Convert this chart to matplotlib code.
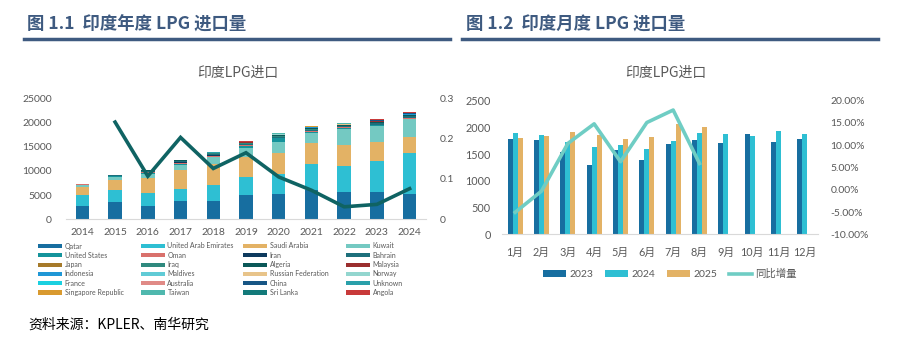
import numpy as np
import matplotlib
matplotlib.use("Agg")
import matplotlib.pyplot as plt
from matplotlib.patches import Patch
from matplotlib.lines import Line2D

plt.rcParams['font.family'] = ['Lato', 'Noto Sans CJK SC', 'DejaVu Sans']

# ---------------- data: annual (left) ----------------
years = ['2014', '2015', '2016', '2017', '2018', '2019', '2020', '2021', '2022', '2023', '2024']
countries = ['Qatar', 'United Arab Emirates', 'Saudi Arabia', 'Kuwait',
             'United States', 'Oman', 'Iran', 'Bahrain',
             'Japan', 'Iraq', 'Algeria', 'Malaysia',
             'Indonesia', 'Maldives', 'Russian Federation', 'Norway',
             'France', 'Australia', 'China', 'Unknown',
             'Singapore Republic', 'Taiwan', 'Sri Lanka', 'Angola']
qatar     = [2830, 3600, 2830, 3750, 3820, 4970, 5320, 6150, 5590, 5650, 5320]
uae       = [2200, 2400, 2620, 2480, 3180, 3730, 4140, 5240, 5390, 6360, 8280]
saudi     = [1660, 2080, 3100, 3870, 4390, 4200, 4270, 4350, 4280, 3870, 3440]
kuwait    = [350, 690, 910, 1100, 1390, 1740, 2280, 2130, 3320, 3320, 3610]
us        = [120, 200, 150, 200, 150, 450, 700, 250, 250, 200, 150]
oman      = [40, 40, 250, 300, 150, 200, 150, 150, 150, 150, 200]
iran      = [0, 0, 0, 100, 300, 150, 0, 0, 0, 0, 0]
bahrain   = [50, 80, 100, 150, 100, 120, 150, 250, 200, 250, 250]
japan     = [0, 0, 30, 50, 40, 30, 20, 30, 20, 30, 30]
iraq      = [0, 0, 50, 100, 80, 120, 150, 150, 120, 150, 120]
algeria   = [60, 80, 80, 120, 100, 150, 200, 200, 150, 180, 180]
malaysia  = [0, 20, 30, 40, 30, 40, 60, 50, 40, 60, 60]
indonesia = [0, 0, 0, 0, 0, 20, 40, 30, 30, 30, 30]
maldives  = [0, 0, 0, 0, 0, 0, 0, 0, 0, 0, 0]
russia    = [0, 0, 0, 0, 0, 0, 0, 0, 60, 60, 50]
norway    = [0, 0, 0, 20, 30, 40, 50, 30, 20, 30, 30]
france    = [0, 0, 0, 0, 0, 0, 20, 20, 0, 0, 0]
australia = [0, 0, 20, 20, 20, 20, 30, 20, 20, 20, 30]
china     = [0, 0, 0, 0, 0, 0, 40, 50, 60, 100, 120]
unknown   = [20, 30, 40, 50, 40, 50, 60, 60, 50, 60, 60]
singapore = [0, 0, 0, 0, 20, 20, 40, 30, 40, 50, 50]
taiwan    = [0, 0, 0, 0, 0, 20, 30, 20, 20, 30, 30]
srilanka  = [0, 0, 0, 0, 0, 0, 0, 0, 0, 0, 0]
angola    = [0, 0, 0, 0, 0, 30, 40, 20, 20, 20, 30]
growth    = [np.nan, 0.241, 0.107, 0.203, 0.126, 0.165, 0.105, 0.072, 0.031, 0.037, 0.076]

series = [qatar, uae, saudi, kuwait, us, oman, iran, bahrain, japan, iraq, algeria, malaysia,
          indonesia, maldives, russia, norway, france, australia, china, unknown,
          singapore, taiwan, srilanka, angola]
colors = ['#176ea0', '#2ebfd3', '#e3b265', '#74c9c2',
          '#14939b', '#d9716c', '#0e3a5e', '#1d6f7b',
          '#a67a2a', '#2f897e', '#0b5858', '#9a2e2e',
          '#1f97d6', '#60cbd6', '#e8c48a', '#93d6cf',
          '#1ad0e0', '#e08a86', '#175685', '#2aa0aa',
          '#d99a2f', '#4fb8ae', '#137a7a', '#c83a3a']

# ---------------- data: monthly (right) ----------------
months = ['1月', '2月', '3月', '4月', '5月', '6月', '7月', '8月', '9月', '10月', '11月', '12月']
m2023 = [1783, 1758, 1540, 1297, 1571, 1384, 1683, 1758, 1714, 1877, 1727, 1777]
m2024 = [1889, 1858, 1733, 1633, 1671, 1590, 1746, 1889, 1877, 1845, 1933, 1877]
m2025 = [1795, 1845, 1914, 1864, 1783, 1820, 2064, 2001, np.nan, np.nan, np.nan, np.nan]
yoy   = [-5.06, -0.3, 10.4, 14.8, 6.3, 15.1, 17.9, 5.9, np.nan, np.nan, np.nan, np.nan]

W, H = 901, 351
fig = plt.figure(figsize=(W / 100, H / 100), dpi=100)

def ax_rect(x0, x1, ytop, ybot):
    return [x0 / W, 1 - ybot / H, (x1 - x0) / W, (ybot - ytop) / H]

header_color = '#3e5a80'
tick_color = '#595959'
cjk_bold = ['Noto Sans CJK SC', 'DejaVu Sans']

# headers
fig.text(27 / W, 1 - 25 / H, '图 1.1  印度年度 LPG 进口量', fontsize=12.5, fontweight='bold',
         color=header_color, va='center', ha='left', family=cjk_bold)
fig.text(466 / W, 1 - 25 / H, '图 1.2  印度月度 LPG 进口量', fontsize=12.5, fontweight='bold',
         color=header_color, va='center', ha='left', family=cjk_bold)
fig.add_artist(Line2D([24 / W, 450 / W], [1 - 39.3 / H] * 2, color=header_color, lw=2.5))
fig.add_artist(Line2D([462 / W, 878 / W], [1 - 39.3 / H] * 2, color=header_color, lw=2.5))
fig.text(28 / W, 1 - 325 / H, '资料来源：KPLER、南华研究', fontsize=10, color='black',
         va='center', ha='left', family=['Noto Sans CJK SC', 'DejaVu Sans'])

# ---------------- left chart ----------------
ax1 = fig.add_axes(ax_rect(66, 426, 98.3, 219.3))
x = np.arange(len(years))
bottom = np.zeros(len(years))
handles = []
for name, vals, c in zip(countries, series, colors):
    v = np.array(vals, dtype=float)
    ax1.bar(x, v, 0.41, bottom=bottom, color=c, linewidth=0)
    bottom += v
    handles.append(Patch(facecolor=c, label=name))
ax1.set_xlim(-0.5, len(years) - 0.5)
ax1.set_ylim(0, 25000)
ax1.set_yticks(np.arange(0, 25001, 5000))
ax1.set_xticks(x)
ax1.set_xticklabels(years)
for s in ['top', 'right', 'left']:
    ax1.spines[s].set_visible(False)
ax1.spines['bottom'].set_color('#d9d9d9')
ax1.tick_params(axis='both', length=0, colors=tick_color, labelsize=7.5)
ax1.tick_params(axis='y', pad=10)
ax1.tick_params(axis='x', pad=6.5)
ax1b = ax1.twinx()
ax1b.plot(x, growth, color='#0f6363', lw=2.6, solid_joinstyle='miter')
ax1b.set_ylim(0, 0.3)
ax1b.set_yticks([0, 0.1, 0.2, 0.3])
ax1b.set_yticklabels(['0', '0.1', '0.2', '0.3'])
for s in ['top', 'right', 'left', 'bottom']:
    ax1b.spines[s].set_visible(False)
ax1b.tick_params(axis='y', length=0, colors=tick_color, labelsize=7.5, pad=10)
fig.text(238 / W, 1 - 73 / H, '印度LPG进口', fontsize=10, color=tick_color,
         ha='center', va='center', family=['Noto Sans CJK SC', 'DejaVu Sans'])

# legend: 4 columns, row-wise order
col_x = [38, 140.7, 243, 346]
for ci in range(4):
    hs = [handles[r * 4 + ci] for r in range(6)]
    fig.legend(handles=hs, loc='upper left',
               bbox_to_anchor=(col_x[ci] / W, 1 - 242.5 / H),
               frameon=False, fontsize=5, handlelength=3.45, handleheight=0.55,
               handletextpad=0.4, labelspacing=0.33, borderpad=0, borderaxespad=0,
               labelcolor=tick_color)

# ---------------- right chart ----------------
ax2 = fig.add_axes(ax_rect(502, 818, 100.7, 234.3))
xm = np.arange(len(months))
bw = 0.19
ax2.bar(xm - bw, m2023, bw, color='#176ea0', label='2023', linewidth=0)
ax2.bar(xm, m2024, bw, color='#2ebfd3', label='2024', linewidth=0)
ax2.bar(xm + bw, m2025, bw, color='#e3b265', label='2025', linewidth=0)
ax2.set_xlim(-0.5, len(months) - 0.5)
ax2.set_ylim(0, 2500)
ax2.set_yticks(np.arange(0, 2501, 500))
ax2.set_xticks(xm)
ax2.set_xticklabels(months)
for s in ['top', 'right', 'left']:
    ax2.spines[s].set_visible(False)
ax2.spines['bottom'].set_color('#d9d9d9')
ax2.tick_params(axis='both', length=0, colors=tick_color, labelsize=7.8)
ax2.tick_params(axis='y', pad=8)
ax2.tick_params(axis='x', pad=9)
ax2b = ax2.twinx()
ax2b.plot(xm, yoy, color='#6fcdc4', lw=2.6, label='同比增量')
ax2b.set_ylim(-10, 20)
ax2b.set_yticks(np.arange(-10, 20.1, 5))
ax2b.set_yticklabels([f'{v:.2f}%' for v in np.arange(-10, 20.1, 5)])
for s in ['top', 'right', 'left', 'bottom']:
    ax2b.spines[s].set_visible(False)
ax2b.tick_params(axis='y', length=0, colors=tick_color, labelsize=7.5, pad=9)
fig.text(666 / W, 1 - 73 / H, '印度LPG进口', fontsize=10, color=tick_color,
         ha='center', va='center', family=['Noto Sans CJK SC', 'DejaVu Sans'])

h2, l2 = ax2.get_legend_handles_labels()
h3, l3 = ax2b.get_legend_handles_labels()
fig.legend(h2 + h3, l2 + l3, loc='center', bbox_to_anchor=(670 / W, 1 - 274 / H), ncol=4,
           frameon=False, fontsize=7.5, handlelength=2.2, handleheight=0.55,
           handletextpad=0.3, columnspacing=1.15, labelcolor=tick_color)

fig.savefig('out.png', dpi=100)
